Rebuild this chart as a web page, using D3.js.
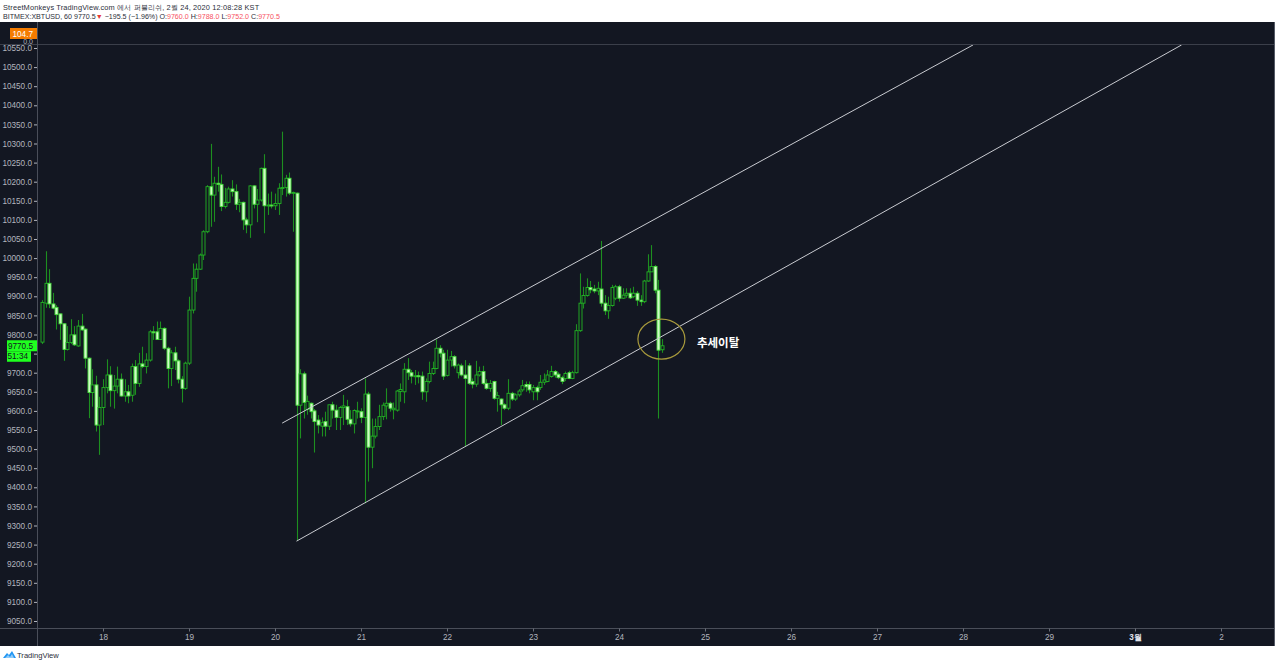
<!DOCTYPE html>
<html><head><meta charset="utf-8">
<script src="https://cdn.jsdelivr.net/npm/d3@7"></script>
<style>body{margin:0;background:#fff;overflow:hidden}svg{display:block}</style>
</head><body><svg id="c" width="1280" height="664"></svg>
<script>
// ---- DATA (BITMEX:XBTUSD, 60 min) ----
const startTime = Date.UTC(2020, 1, 17, 7); // first candle
const opens = [9780,9882,9934,9880,9871,9854,9828,9761,9779,9799,9770,9822,9814,9738,9648,9668,9563,9609,9661,9694,
9653,9665,9683,9639,9650,9641,9716,9672,9723,9716,9733,9807,9807,9787,9816,9764,9711,9752,9731,9683,
9659,9725,9864,9947,9971,10008,10069,10187,10165,10196,10193,10135,10146,10181,10174,10141,10146,10100,10087,10189,
10141,10152,10235,10137,10139,10137,10143,10183,10185,10209,10170,10170,9615,9697,9604,9620,9600,9576,9560,9572,
9560,9616,9602,9583,9609,9611,9578,9566,9600,9598,9583,9644,9505,9534,9559,9585,9613,9620,9603,9602,
9651,9650,9709,9700,9691,9692,9691,9650,9677,9698,9711,9764,9751,9693,9733,9742,9700,9718,9694,9718,
9677,9670,9694,9703,9672,9659,9677,9633,9631,9616,9607,9646,9631,9642,9655,9669,9669,9650,9661,9661,
9675,9677,9690,9703,9696,9687,9685,9700,9685,9700,9810,9882,9902,9923,9919,9914,9919,9882,9862,9876,
9895,9925,9895,9903,9908,9899,9908,9890,9886,9940,9964,9978,9916,9760];
const highs = [9890,10018,9971,9909,9877,9855,9830,9822,9840,9822,9838,9854,9816,9740,9709,9692,9637,9683,9735,9717,
9694,9716,9698,9683,9668,9724,9733,9752,9768,9751,9812,9822,9834,9834,9819,9768,9759,9768,9735,9691,
9729,9899,9986,9986,10012,10073,10191,10299,10213,10239,10219,10184,10187,10204,10193,10155,10148,10106,10191,10191,
10181,10237,10272,10169,10174,10169,10196,10331,10218,10224,10174,10172,9709,9703,9640,9622,9605,9589,9583,9598,
9616,9624,9616,9613,9642,9629,9602,9604,9624,9607,9685,9650,9580,9580,9616,9622,9659,9624,9622,9655,
9672,9725,9738,9707,9707,9703,9703,9685,9729,9729,9787,9772,9760,9760,9757,9746,9724,9724,9733,9725,
9685,9731,9716,9718,9683,9681,9679,9650,9633,9620,9683,9650,9646,9657,9681,9677,9677,9668,9666,9694,
9698,9707,9718,9707,9701,9692,9703,9705,9705,9827,9960,9925,9947,9940,9930,9938,10045,9903,9899,9930,
9930,9930,9921,9921,9921,9925,9914,9903,9943,10010,10034,9982,9943,9788];
const lows = [9775,9870,9869,9866,9813,9786,9731,9758,9775,9770,9768,9810,9711,9581,9611,9546,9485,9563,9646,9611,
9606,9646,9637,9624,9620,9624,9642,9663,9712,9698,9729,9786,9786,9786,9759,9659,9665,9707,9672,9622,
9655,9720,9855,9912,9969,9995,10065,10082,10095,10174,10123,10130,10143,10161,10126,10120,10074,10065,10053,10130,
10094,10148,10065,10113,10130,10126,10113,10165,10161,10165,10069,9260,9528,9580,9590,9580,9491,9541,9533,9533,
9550,9580,9550,9550,9563,9563,9559,9541,9580,9568,9358,9415,9450,9528,9550,9576,9578,9598,9578,9598,
9624,9620,9681,9672,9668,9672,9629,9624,9672,9694,9709,9740,9681,9690,9716,9711,9685,9690,9506,9668,
9659,9663,9690,9668,9655,9650,9629,9598,9563,9602,9602,9626,9626,9637,9650,9650,9646,9628,9628,9655,
9668,9675,9687,9687,9683,9670,9678,9683,9683,9698,9807,9868,9899,9908,9908,9903,9873,9851,9841,9873,
9890,9886,9893,9896,9893,9895,9875,9875,9882,9938,9964,9908,9580,9752];
const closes = [9884,9934,9880,9869,9852,9828,9761,9779,9799,9773,9822,9812,9738,9648,9668,9563,9609,9661,9694,9653,
9665,9683,9639,9650,9639,9716,9672,9723,9716,9733,9807,9805,9787,9816,9764,9711,9752,9731,9683,9659,
9725,9864,9947,9971,10008,10069,10187,10165,10196,10193,10135,10146,10181,10174,10141,10146,10100,10087,10189,10141,
10152,10235,10137,10139,10137,10143,10183,10185,10209,10170,10172,9615,9697,9622,9625,9598,9572,9563,9569,9560,
9616,9602,9583,9609,9613,9578,9566,9601,9600,9583,9644,9505,9534,9559,9585,9615,9620,9607,9607,9652,
9656,9709,9700,9691,9692,9690,9650,9677,9698,9711,9764,9751,9691,9733,9742,9718,9720,9694,9685,9672,
9670,9694,9703,9672,9659,9672,9633,9640,9616,9607,9646,9631,9642,9652,9666,9663,9655,9661,9650,9675,
9681,9694,9703,9694,9687,9677,9698,9685,9700,9810,9882,9902,9923,9917,9914,9921,9882,9862,9876,9923,
9925,9895,9903,9908,9896,9908,9890,9886,9940,9964,9978,9916,9759,9770.5];

const priceTicks = [9050,9100,9150,9200,9250,9300,9350,9400,9450,9500,9550,9600,9650,9700,9750,9800,9850,9900,9950,
10000,10050,10100,10150,10200,10250,10300,10350,10400,10450,10500,10550];
const hiddenTick = 9750; // covered by the last-price labels
const dayTickDates = [[2020,1,18],[2020,1,19],[2020,1,20],[2020,1,21],[2020,1,22],[2020,1,23],[2020,1,24],[2020,1,25],
[2020,1,26],[2020,1,27],[2020,1,28],[2020,1,29],[2020,2,1],[2020,2,2]];
const dayTickLabels = ["18","19","20","21","22","23","24","25","26","27","28","29","3월","2"];

// trend channel lines: [time(UTC y,m,d,h,min), price]
const upperLine = [[[2020,1,20,2,0], 9568], [[2020,1,28,2,48], 10558]];
const lowerLine = [[[2020,1,20,6,0], 9259], [[2020,2,1,13,0], 10558]];
const circleAnchor = [[2020,1,24,11,50], 9788];
const noteAnchor = [[2020,1,24,21,45], 9780];
const noteText = "추세이탈";

const headerLine1 = "StreetMonkeys TradingView.com 에서 퍼블리쉬, 2월 24, 2020 12:08:28 KST";
const headerLine2 = [["BITMEX:XBTUSD, 60 9770.5","#2a2e39"],["▼","#e53935"],[" −195.5 (−1.96%) O:","#2a2e39"],["9760.0","#f7525f"],
 [" H:","#2a2e39"],["9788.0","#f7525f"],[" L:","#2a2e39"],["9752.0","#f7525f"],[" C:","#2a2e39"],["9770.5","#f7525f"]];

// ---- LAYOUT ----
const svg = d3.select("#c");
const chartL = 0, chartR = 1275, chartT = 22, chartB = 646;
const paneL = 37, paneT = 45, paneB = 628;
const bg = "#131722", axisTxt = "#b2b5be", sep = "#3b3f4a";

const x = d3.scaleUtc().domain([Date.UTC(2020,1,18), Date.UTC(2020,2,2)]).range([103, 1221]);
const y = d3.scaleLinear().domain([9050, 10550]).range([621, 48]);
const T = a => Date.UTC(a[0], a[1], a[2], a[3]||0, a[4]||0);

svg.append("rect").attr("width",1280).attr("height",664).attr("fill","#fff");
svg.append("rect").attr("x",chartL).attr("y",chartT).attr("width",chartR-chartL).attr("height",chartB-chartT).attr("fill",bg);

// header
svg.append("text").attr("x",3).attr("y",9.5).attr("font-family","Liberation Sans, Arial, sans-serif")
  .attr("font-size",7.4).attr("fill","#2a2e39").attr("letter-spacing",0.15).text(headerLine1);
const h2 = svg.append("text").attr("x",3).attr("y",18.5).attr("font-family","Liberation Sans, Arial, sans-serif")
  .attr("font-size",7.1).attr("fill","#2a2e39").attr("xml:space","preserve").style("white-space","pre");
headerLine2.forEach(([t,c]) => h2.append("tspan").attr("fill",c).text(t));

// separators
svg.append("line").attr("x1",chartL).attr("x2",chartR).attr("y1",44.5).attr("y2",44.5).attr("stroke",sep);
svg.append("line").attr("x1",chartL).attr("x2",chartR).attr("y1",paneB+0.5).attr("y2",paneB+0.5).attr("stroke","#4a4e59");
svg.append("line").attr("x1",paneL+0.5).attr("x2",paneL+0.5).attr("y1",chartT).attr("y2",chartB).attr("stroke","#4a4e59");
svg.append("line").attr("x1",chartR-0.5).attr("x2",chartR-0.5).attr("y1",chartT).attr("y2",chartB).attr("stroke","#555a66");

// clips
const defs = svg.append("defs");
defs.append("clipPath").attr("id","pane").append("rect").attr("x",paneL+1).attr("y",paneT).attr("width",chartR-paneL-2).attr("height",paneB-paneT);
defs.append("clipPath").attr("id","top").append("rect").attr("x",0).attr("y",chartT).attr("width",paneL).attr("height",44-chartT);

// price axis
const yAxis = d3.axisLeft(y).tickValues(priceTicks).tickFormat(d => d === hiddenTick ? "" : d3.format(".1f")(d)).tickSize(3).tickPadding(2);
const ya = svg.append("g").attr("transform",`translate(${paneL},0)`).call(yAxis);
ya.select(".domain").remove();
ya.selectAll("line").attr("stroke",axisTxt);
ya.selectAll("text").attr("fill",axisTxt).attr("font-family","Liberation Sans, Arial, sans-serif").attr("font-size",8.2);

// time axis
const xAxis = d3.axisBottom(x).tickValues(dayTickDates.map(d=>T(d))).tickFormat((d,i)=>dayTickLabels[i]).tickSize(3).tickPadding(3);
const xa = svg.append("g").attr("transform",`translate(0,${paneB+0.5})`).call(xAxis);
xa.select(".domain").remove();
xa.selectAll("line").attr("stroke","#6a6e79");
xa.selectAll("text").attr("fill",axisTxt).attr("font-family","Liberation Sans, Arial, sans-serif").attr("font-size",8.2)
  .filter((d,i)=>dayTickLabels[i]==="3월").attr("fill","#e0e3eb").attr("font-weight","bold");

// top pane label
const tp = svg.append("g").attr("clip-path","url(#top)");
tp.append("text").attr("x",33).attr("y",43.5).attr("text-anchor","end").attr("fill",axisTxt)
  .attr("font-family","Liberation Sans, Arial, sans-serif").attr("font-size",7).text("0.0");
svg.append("rect").attr("x",10).attr("y",28).attr("width",27).attr("height",11).attr("fill","#f57c00");
svg.append("text").attr("x",33).attr("y",36.5).attr("text-anchor","end").attr("fill","#fff")
  .attr("font-family","Liberation Sans, Arial, sans-serif").attr("font-size",8.2).text("104.7");

// candles
const g = svg.append("g").attr("clip-path","url(#pane)");
const candles = opens.map((o,i)=>({t:startTime+i*3600e3,o,h:highs[i],l:lows[i],c:closes[i]}));
const bw = 3;
const cg = g.selectAll("g.cd").data(candles).join("g").attr("class","cd");
cg.append("line")
  .attr("x1",d=>Math.round(x(d.t))+0.5).attr("x2",d=>Math.round(x(d.t))+0.5)
  .attr("y1",d=>y(d.h)).attr("y2",d=>y(d.l))
  .attr("stroke","#1d8f20").attr("stroke-width",1.1);
cg.append("rect")
  .attr("x",d=>Math.round(x(d.t))-1)
  .attr("y",d=>Math.min(y(d.o),y(d.c)))
  .attr("width",bw)
  .attr("height",d=>Math.max(1,Math.abs(y(d.o)-y(d.c))))
  .attr("fill",d=>d.c>=d.o?bg:"#cff9c6")
  .attr("stroke",d=>d.c>=d.o?"#22b524":"#45dd3a")
  .attr("stroke-width",0.9);

// channel lines
const lineGen = d3.line().x(d=>x(T(d[0]))).y(d=>y(d[1]));
[upperLine, lowerLine].forEach(L => g.append("path").attr("d",lineGen(L)).attr("fill","none")
  .attr("stroke","#c9cbd1").attr("stroke-width",1));

// annotation
g.append("ellipse").attr("cx",x(T(circleAnchor[0]))).attr("cy",y(circleAnchor[1])).attr("rx",23.5).attr("ry",20)
  .attr("fill","none").attr("stroke","#a89a3c").attr("stroke-width",1.2);
g.append("text").attr("x",x(T(noteAnchor[0]))).attr("y",y(noteAnchor[1])+4.5)
  .attr("fill","#ffffff").attr("font-family","Noto Sans CJK KR, sans-serif").attr("font-weight","bold")
  .attr("font-size",11.5).text(noteText);

// last price labels
const lp = y(closes[closes.length-1]);
svg.append("rect").attr("x",7).attr("y",lp-5.5).attr("width",30).attr("height",11).attr("fill","#1fff1f");
svg.append("text").attr("x",33).attr("y",lp+3).attr("text-anchor","end").attr("fill","#131722")
  .attr("font-family","Liberation Sans, Arial, sans-serif").attr("font-size",8.2).text("9770.5");
svg.append("rect").attr("x",7).attr("y",lp+5.5).attr("width",24).attr("height",10.5).attr("fill","#1fff1f");
svg.append("text").attr("x",28).attr("y",lp+13.5).attr("text-anchor","end").attr("fill","#131722")
  .attr("font-family","Liberation Sans, Arial, sans-serif").attr("font-size",8.2).text("51:34");

// footer logo
const lg = svg.append("g").attr("transform","translate(3,650)");
lg.append("path").attr("d","M0,8 L4,3 L6,5 L9,1 L13,8 Z").attr("fill","#2196f3");
lg.append("path").attr("d","M2,8 L5,5 L7,7 L9,4 L11,8 Z").attr("fill","#fff").attr("opacity",0.5);
svg.append("text").attr("x",17).attr("y",658).attr("fill","#2a2e39").attr("font-family","Liberation Sans, Arial, sans-serif")
  .attr("font-size",7.6).text("TradingView");
</script></body></html>
